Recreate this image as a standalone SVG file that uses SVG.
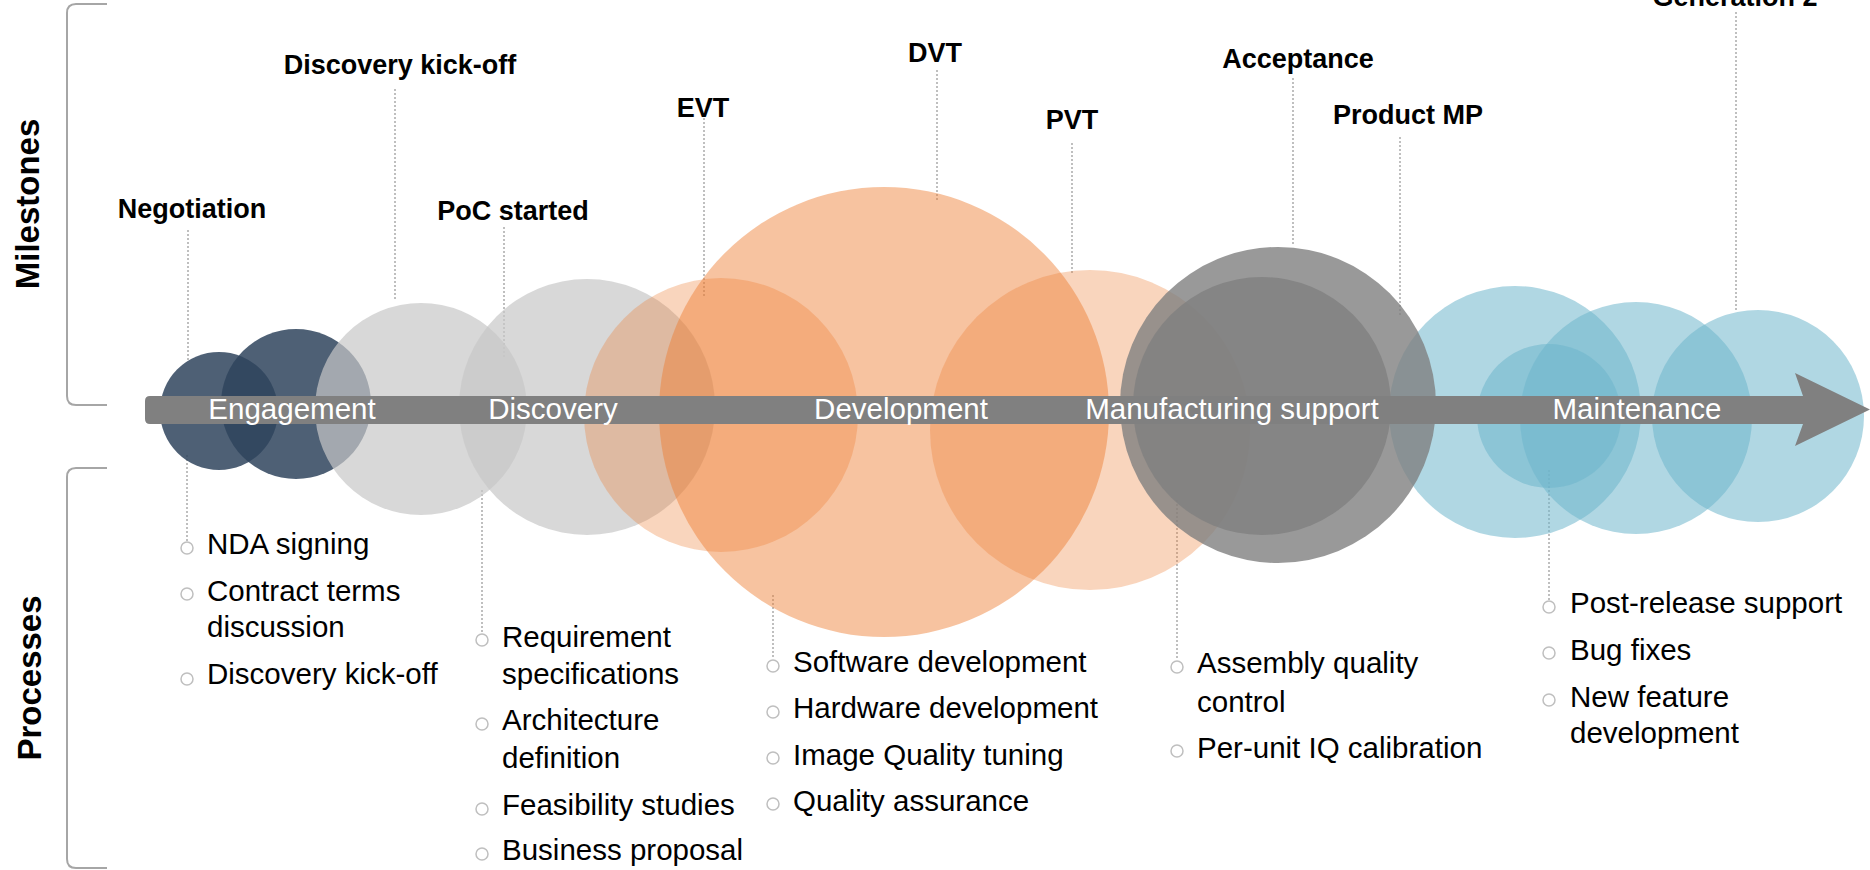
<svg xmlns="http://www.w3.org/2000/svg" width="1870" height="870" viewBox="0 0 1870 870">
<defs>
<style>
.ms{font-family:"Liberation Sans",Arial,sans-serif;font-weight:bold;font-size:27px;fill:#000;text-anchor:middle}
.side{font-family:"Liberation Sans",Arial,sans-serif;font-weight:bold;font-size:33px;fill:#000;text-anchor:middle}
.phase{font-family:"Liberation Sans",Arial,sans-serif;font-size:29.5px;fill:#fff;text-anchor:middle}
.proc{font-family:"Liberation Sans",Arial,sans-serif;font-size:29.5px;fill:#000}
.dot{stroke:#BFBFBF;stroke-width:2;stroke-dasharray:2 2;fill:none}
.bul{fill:#fff;stroke:#BFBFBF;stroke-width:1.5}
.brk{fill:none;stroke:#A6A6A6;stroke-width:2}
.navy{fill:#2F445D;fill-opacity:0.85}
.lgray{fill:#C8C8C8;fill-opacity:0.7}
.orL{fill:#ED7D31;fill-opacity:0.32}
.orB{fill:#ED7D31;fill-opacity:0.46}
.blue{fill:#6DB5CB;fill-opacity:0.54}
.dgray{fill:#7F7F7F;fill-opacity:0.8}
</style>
</defs>

<g id="brackets">
<path class="brk" d="M107,4 H76 Q67,4 67,13 V396 Q67,405 76,405 H107"/>
<path class="brk" d="M107,468 H76 Q67,468 67,477 V859 Q67,868 76,868 H107"/>
<text class="side" transform="translate(39,204) rotate(-90)">Milestones</text>
<text class="side" transform="translate(41,678) rotate(-90)">Processes</text>
</g>

<g id="connectors">
<line class="dot" x1="188" y1="230" x2="188" y2="362"/>
<line class="dot" x1="395" y1="89" x2="395" y2="300"/>
<line class="dot" x1="504" y1="227" x2="504" y2="358"/>
<line class="dot" x1="704" y1="118" x2="704" y2="297"/>
<line class="dot" x1="937" y1="70" x2="937" y2="200"/>
<line class="dot" x1="1072" y1="143" x2="1072" y2="273"/>
<line class="dot" x1="1293" y1="78" x2="1293" y2="245"/>
<line class="dot" x1="1400" y1="137" x2="1400" y2="315"/>
<line class="dot" x1="1736" y1="12" x2="1736" y2="310"/>
<line class="dot" x1="187" y1="455" x2="187" y2="541"/>
<line class="dot" x1="482" y1="490" x2="482" y2="633"/>
<line class="dot" x1="773" y1="595" x2="773" y2="659"/>
<line class="dot" x1="1177" y1="500" x2="1177" y2="660"/>
<line class="dot" x1="1549" y1="470" x2="1549" y2="600"/>
</g>

<g id="phase-engagement">
<circle class="navy" cx="219" cy="411" r="59"/>
<circle class="navy" cx="296" cy="404" r="75"/>
</g>
<g id="phase-discovery">
<circle class="lgray" cx="421" cy="409" r="106"/>
<circle class="lgray" cx="587" cy="407" r="128"/>
</g>
<g id="phase-development">
<circle class="orL" cx="721" cy="415" r="137"/>
<circle class="orB" cx="884" cy="412" r="225"/>
<circle class="orL" cx="1090" cy="430" r="160"/>
</g>
<g id="phase-maintenance">
<circle class="blue" cx="1515" cy="412" r="126"/>
<circle class="blue" cx="1636" cy="418" r="116"/>
<circle class="blue" cx="1758" cy="416" r="106"/>
<circle class="blue" cx="1549" cy="416" r="72"/>
</g>
<g id="phase-manufacturing">
<circle class="dgray" cx="1278" cy="405" r="158"/>
<circle class="dgray" cx="1262" cy="406" r="129"/>
</g>

<g id="timeline-arrow">
<path fill="#808080" d="M150,396 H1803 L1795,373 L1870,409.5 L1795,446 L1803,424 H150 Q145,424 145,419 V401 Q145,396 150,396 Z"/>
<text class="phase" x="292" y="419">Engagement</text>
<text class="phase" x="553" y="419">Discovery</text>
<text class="phase" x="901" y="419">Development</text>
<text class="phase" x="1232" y="419">Manufacturing support</text>
<text class="phase" x="1637" y="419">Maintenance</text>
</g>

<g id="milestones">
<text class="ms" x="192" y="218">Negotiation</text>
<text class="ms" x="400" y="74">Discovery kick-off</text>
<text class="ms" x="513" y="220">PoC started</text>
<text class="ms" x="703" y="117">EVT</text>
<text class="ms" x="935" y="62">DVT</text>
<text class="ms" x="1072" y="129">PVT</text>
<text class="ms" x="1298" y="68">Acceptance</text>
<text class="ms" x="1408" y="124">Product MP</text>
<text class="ms" x="1735" y="6">Generation 2</text>
</g>

<g id="proc-engagement">
<circle class="bul" cx="187" cy="548" r="6"/>
<circle class="bul" cx="187" cy="594" r="6"/>
<circle class="bul" cx="187" cy="679" r="6"/>
<text class="proc" x="207" y="554">NDA signing</text>
<text class="proc" x="207" y="601">Contract terms</text>
<text class="proc" x="207" y="637">discussion</text>
<text class="proc" x="207" y="684">Discovery kick-off</text>
</g>

<g id="proc-discovery">
<circle class="bul" cx="482" cy="640" r="6"/>
<circle class="bul" cx="482" cy="724" r="6"/>
<circle class="bul" cx="482" cy="809" r="6"/>
<circle class="bul" cx="482" cy="854" r="6"/>
<text class="proc" x="502" y="647">Requirement</text>
<text class="proc" x="502" y="684">specifications</text>
<text class="proc" x="502" y="730">Architecture</text>
<text class="proc" x="502" y="768">definition</text>
<text class="proc" x="502" y="815">Feasibility studies</text>
<text class="proc" x="502" y="860">Business proposal</text>
</g>

<g id="proc-development">
<circle class="bul" cx="773" cy="666" r="6"/>
<circle class="bul" cx="773" cy="712" r="6"/>
<circle class="bul" cx="773" cy="758" r="6"/>
<circle class="bul" cx="773" cy="804" r="6"/>
<text class="proc" x="793" y="672">Software development</text>
<text class="proc" x="793" y="718">Hardware development</text>
<text class="proc" x="793" y="765">Image Quality tuning</text>
<text class="proc" x="793" y="811">Quality assurance</text>
</g>

<g id="proc-manufacturing">
<circle class="bul" cx="1177" cy="667" r="6"/>
<circle class="bul" cx="1177" cy="751" r="6"/>
<text class="proc" x="1197" y="673">Assembly quality</text>
<text class="proc" x="1197" y="712">control</text>
<text class="proc" x="1197" y="758">Per-unit IQ calibration</text>
</g>

<g id="proc-maintenance">
<circle class="bul" cx="1549" cy="607" r="6"/>
<circle class="bul" cx="1549" cy="653" r="6"/>
<circle class="bul" cx="1549" cy="700" r="6"/>
<text class="proc" x="1570" y="613">Post-release support</text>
<text class="proc" x="1570" y="660">Bug fixes</text>
<text class="proc" x="1570" y="707">New feature</text>
<text class="proc" x="1570" y="743">development</text>
</g>
</svg>
